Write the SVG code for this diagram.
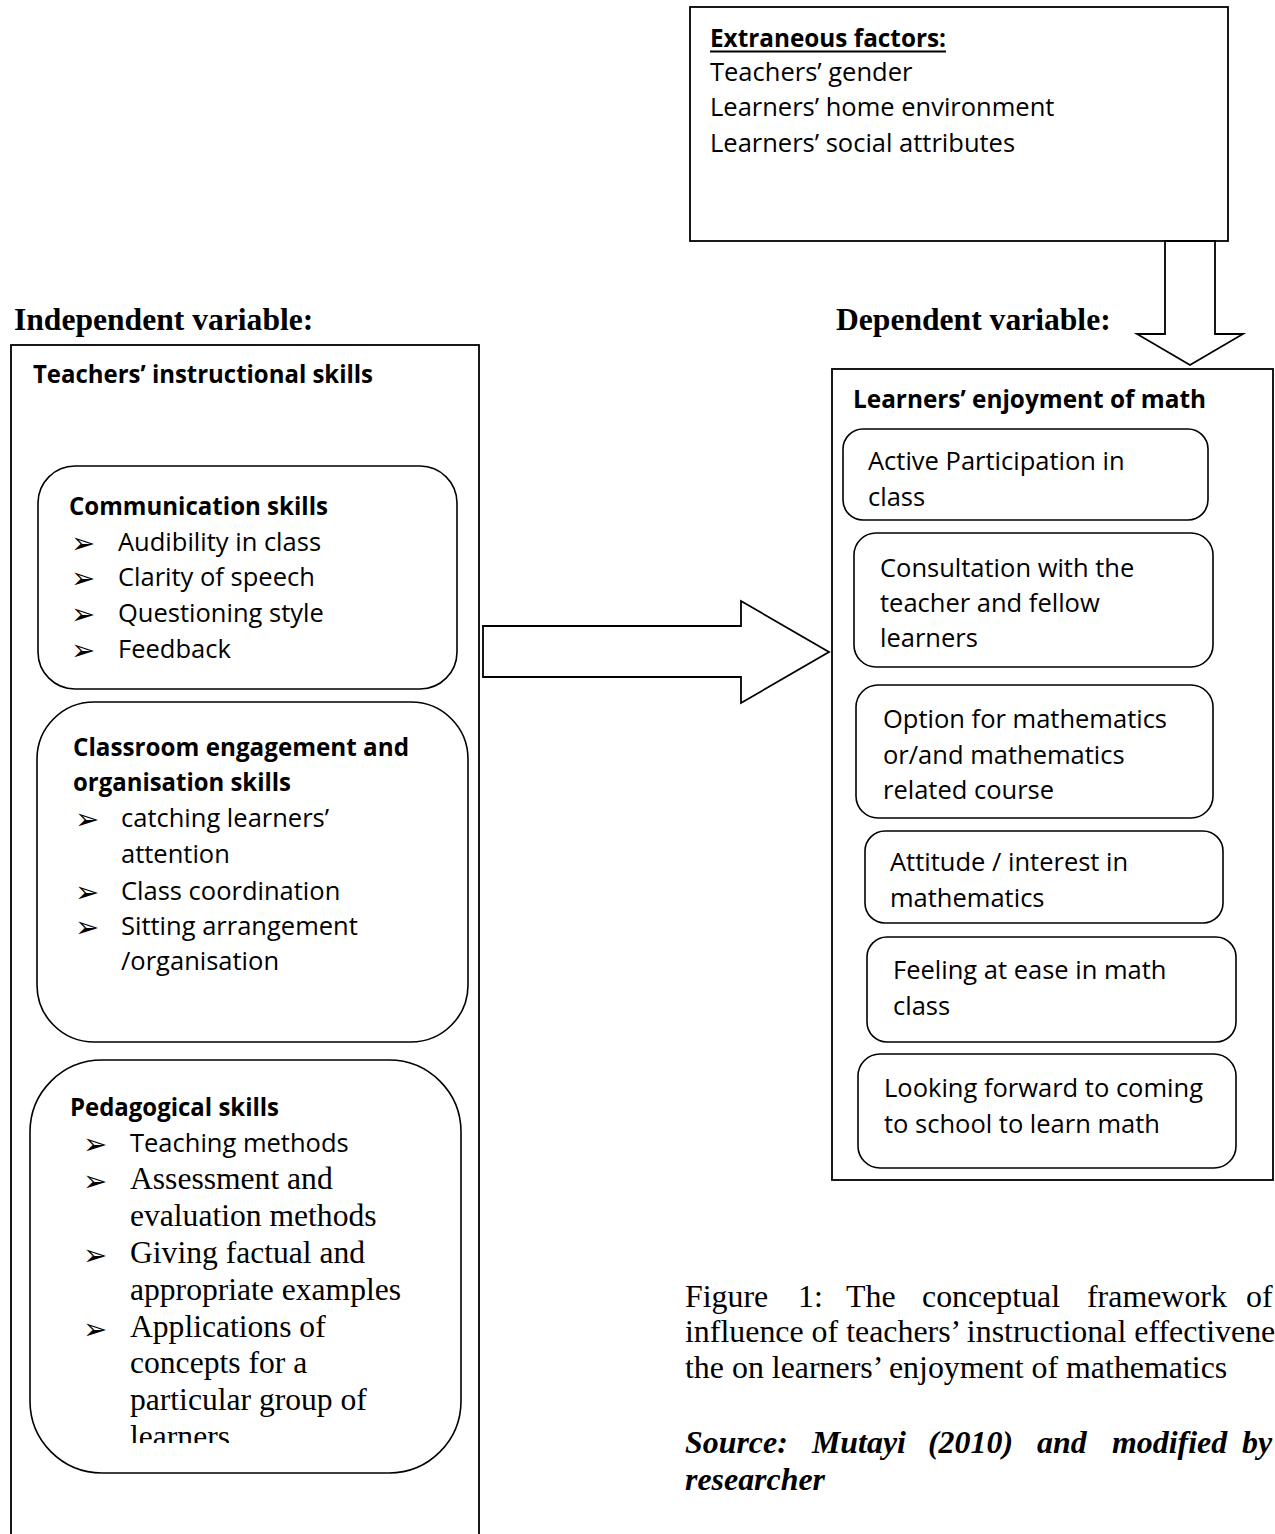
<svg xmlns="http://www.w3.org/2000/svg" width="1275" height="1534" viewBox="0 0 1275 1534">
<style>
.box{fill:#fff;stroke:#000;stroke-width:1.8}
.rbox{fill:#fff;stroke:#000;stroke-width:1.6}
.arr{fill:#fff;stroke:#000;stroke-width:1.8;stroke-linejoin:miter}
.cal{font-family:"Open Sans","Liberation Sans",sans-serif;font-size:25.5px;fill:#000}
.calb{font-family:"Open Sans","Liberation Sans",sans-serif;font-size:25.5px;font-weight:bold;fill:#000}
.tnr{font-family:"Liberation Serif","Times New Roman",serif;font-size:31.6px;fill:#000}
.cap{font-family:"Liberation Serif","Times New Roman",serif;font-size:31.9px;fill:#000}
.tnrb{font-family:"Liberation Serif","Times New Roman",serif;font-size:31.6px;font-weight:bold;fill:#000}
.tnrbi{font-family:"Liberation Serif","Times New Roman",serif;font-size:31.9px;font-weight:bold;font-style:italic;fill:#000}
.bul{font-family:"DejaVu Sans",sans-serif;font-size:29px;fill:#000}
</style>
<defs>
<clipPath id="pedClip"><rect x="0" y="1060" width="480" height="383"/></clipPath>
</defs>
<rect x="0" y="0" width="1275" height="1534" fill="#fff"/>

<g id="extraneous">
<rect class="box" x="690" y="7" width="538" height="234"/>
<text class="calb" x="710" y="47" textLength="236" lengthAdjust="spacingAndGlyphs">Extraneous factors:</text>
<line x1="710" y1="51.5" x2="946" y2="51.5" stroke="#000" stroke-width="2"/>
<text class="cal" x="710" y="81">Teachers’ gender</text>
<text class="cal" x="710" y="116">Learners’ home environment</text>
<text class="cal" x="710" y="152">Learners’ social attributes</text>
</g>

<g id="labels">
<text class="tnrb" x="14" y="330">Independent variable:</text>
<text class="tnrb" x="836" y="330">Dependent variable:</text>
</g>

<g id="independent">
<rect class="box" x="11" y="345" width="468" height="1200"/>
<text class="calb" x="33" y="383" textLength="340" lengthAdjust="spacingAndGlyphs">Teachers’ instructional skills</text>
</g>

<g id="communication">
<rect class="rbox" x="38" y="466" width="419" height="223" rx="37" ry="37"/>
<text class="calb" x="69" y="515" textLength="259" lengthAdjust="spacingAndGlyphs">Communication skills</text>
<text class="bul" x="71" y="553">➢</text><text class="cal" x="118" y="551">Audibility in class</text>
<text class="bul" x="71" y="588">➢</text><text class="cal" x="118" y="586">Clarity of speech</text>
<text class="bul" x="71" y="624">➢</text><text class="cal" x="118" y="622">Questioning style</text>
<text class="bul" x="71" y="660">➢</text><text class="cal" x="118" y="658">Feedback</text>
</g>

<g id="classroom">
<rect class="rbox" x="37" y="702" width="431" height="340" rx="57" ry="57"/>
<text class="calb" x="73" y="756" textLength="336" lengthAdjust="spacingAndGlyphs">Classroom engagement and</text>
<text class="calb" x="73" y="791" textLength="218" lengthAdjust="spacingAndGlyphs">organisation skills</text>
<text class="bul" x="75" y="829">➢</text><text class="cal" x="121" y="827">catching learners’</text>
<text class="cal" x="121" y="863">attention</text>
<text class="bul" x="75" y="902">➢</text><text class="cal" x="121" y="900">Class coordination</text>
<text class="bul" x="75" y="937">➢</text><text class="cal" x="121" y="935">Sitting arrangement</text>
<text class="cal" x="121" y="970">/organisation</text>
</g>

<g id="pedagogical">
<rect class="rbox" x="30" y="1060" width="431" height="413" rx="72" ry="72"/>
<text class="calb" x="70" y="1116" textLength="209" lengthAdjust="spacingAndGlyphs">Pedagogical skills</text>
<text class="bul" x="83" y="1154">➢</text><text class="cal" x="130" y="1152">Teaching methods</text>
<text class="bul" x="83" y="1191">➢</text><text class="tnr" x="130" y="1189">Assessment and</text>
<text class="tnr" x="130" y="1226">evaluation methods</text>
<text class="bul" x="83" y="1265">➢</text><text class="tnr" x="130" y="1263">Giving factual and</text>
<text class="tnr" x="130" y="1300">appropriate examples</text>
<text class="bul" x="83" y="1339">➢</text><text class="tnr" x="130" y="1337">Applications of</text>
<text class="tnr" x="130" y="1373">concepts for a</text>
<text class="tnr" x="130" y="1410">particular group of</text>
<text class="tnr" x="130" y="1447" clip-path="url(#pedClip)">learners</text>
</g>

<g id="dependent">
<rect class="box" x="832" y="369" width="441" height="811"/>
<text class="calb" x="853" y="408" textLength="353" lengthAdjust="spacingAndGlyphs">Learners’ enjoyment of math</text>
</g>

<g id="participation">
<rect class="rbox" x="843" y="429" width="365" height="91" rx="20" ry="20"/>
<text class="cal" x="868" y="470">Active Participation in</text>
<text class="cal" x="868" y="506">class</text>
</g>
<g id="consultation">
<rect class="rbox" x="854" y="533" width="359" height="134" rx="22" ry="22"/>
<text class="cal" x="880" y="577">Consultation with the</text>
<text class="cal" x="880" y="612">teacher and fellow</text>
<text class="cal" x="880" y="647">learners</text>
</g>
<g id="option">
<rect class="rbox" x="856" y="685" width="357" height="133" rx="22" ry="22"/>
<text class="cal" x="883" y="728">Option for mathematics</text>
<text class="cal" x="883" y="764">or/and mathematics</text>
<text class="cal" x="883" y="799">related course</text>
</g>
<g id="attitude">
<rect class="rbox" x="865" y="831" width="358" height="92" rx="20" ry="20"/>
<text class="cal" x="890" y="871">Attitude / interest in</text>
<text class="cal" x="890" y="907">mathematics</text>
</g>
<g id="ease">
<rect class="rbox" x="867" y="937" width="369" height="105" rx="20" ry="20"/>
<text class="cal" x="893" y="979">Feeling at ease in math</text>
<text class="cal" x="893" y="1015">class</text>
</g>
<g id="forward">
<rect class="rbox" x="858" y="1054" width="378" height="114" rx="22" ry="22"/>
<text class="cal" x="884" y="1097">Looking forward to coming</text>
<text class="cal" x="884" y="1133">to school to learn math</text>
</g>

<g id="connectors">
<polygon class="arr" points="1165,241 1215,241 1215,334 1243,334 1190,365 1137,334 1165,334"/>
<polygon class="arr" points="483,626 741,626 741,601 829,652 741,703 741,677 483,677"/>
</g>

<g id="caption">
<text class="cap" y="1307"><tspan x="685">Figure</tspan><tspan x="798">1:</tspan><tspan x="846">The</tspan><tspan x="922">conceptual</tspan><tspan x="1087">framework</tspan><tspan x="1246">of</tspan></text>
<text class="cap" x="685" y="1342">influence of teachers’ instructional effectivene</text>
<text class="cap" x="685" y="1378">the on learners’ enjoyment of mathematics</text>
<text class="tnrbi" y="1453"><tspan x="685">Source:</tspan><tspan x="812">Mutayi</tspan><tspan x="928">(2010)</tspan><tspan x="1037">and</tspan><tspan x="1112">modified</tspan><tspan x="1242">by</tspan></text>
<text class="tnrbi" x="685" y="1490">researcher</text>
</g>
</svg>
